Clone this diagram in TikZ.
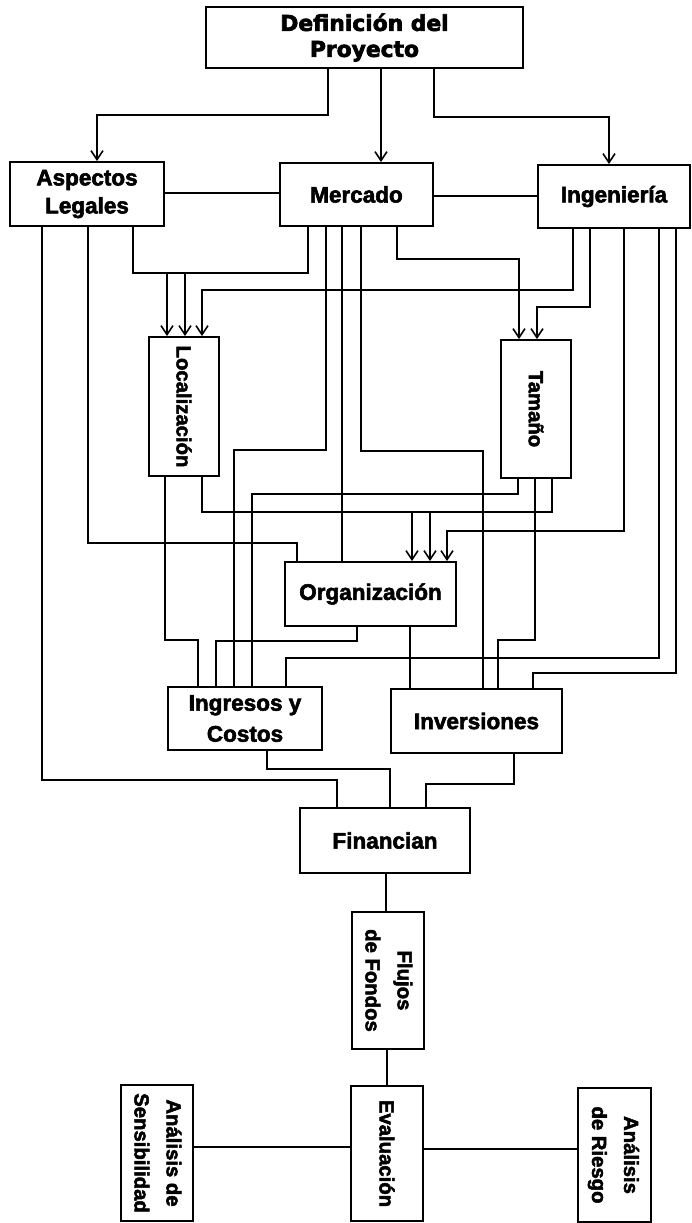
\documentclass[tikz,border=0pt]{standalone}
\usepackage{graphicx}
\usepackage{fontspec}
\setmainfont{Liberation Sans}[BoldFeatures={FakeBold=2.5}]
\newfontfamily\titlefont{DejaVu Sans}[BoldFeatures={FakeBold=3}]
\usetikzlibrary{arrows.meta}
\begin{document}
\begin{tikzpicture}[x=1pt,y=-1pt,
  nbox/.style={draw, line width=1.9pt, inner sep=0pt, align=center,
    font=\bfseries\fontsize{22.5}{28}\selectfont},
  rtext/.style={font=\bfseries\fontsize{20.3}{32}\selectfont},
  conn/.style={line width=1.3pt},
  arr/.style={conn, -{Straight Barb[length=9pt,width=12pt,line width=1.6pt]}}]
\useasboundingbox (0,0) rectangle (691,1223);

% boxes
\node[nbox, minimum width=317, minimum height=61,
  font=\titlefont\bfseries\fontsize{21.8}{26}\selectfont] (def) at (364.5,37.5) {Definición del\\Proyecto};
\node[nbox, minimum width=154, minimum height=64] (asp) at (87,194) {Aspectos\\Legales};
\node[nbox, minimum width=153, minimum height=63] (mer) at (356.5,194.5) {Mercado};
\node[nbox, minimum width=152, minimum height=63] (ing) at (614,196.5) {Ingeniería};
\node[nbox, rtext, minimum width=70, minimum height=139] (loc) at (184,406.5) {\rotatebox{-90}{Localización}};
\node[nbox, rtext, minimum width=70, minimum height=138] (tam) at (536,409) {\rotatebox{-90}{Tamaño}};
\node[nbox, minimum width=171, minimum height=64] (org) at (370.5,594) {Organización};
\node[nbox, minimum width=154, minimum height=63,
  font=\bfseries\fontsize{22.5}{31}\selectfont] (ingr) at (245,718.5) {Ingresos y\\Costos};
\node[nbox, minimum width=171, minimum height=64] (inv) at (476.5,721) {Inversiones};
\node[nbox, minimum width=170, minimum height=65] (fin) at (385,840.5) {Financian};
\node[nbox, rtext, minimum width=72, minimum height=137] (flu) at (388,980.5)
  {\rotatebox{-90}{\begin{tabular}{@{}c@{}}Flujos\\de Fondos\end{tabular}}};
\node[nbox, rtext, minimum width=72, minimum height=135] (eva) at (387,1153.5) {\rotatebox{-90}{Evaluación}};
\node[nbox, rtext, minimum width=72, minimum height=136] (sen) at (157,1153)
  {\rotatebox{-90}{\begin{tabular}{@{}c@{}}Análisis de\\Sensibilidad\end{tabular}}};
\node[nbox, rtext, minimum width=73, minimum height=134] (rie) at (614.5,1155)
  {\rotatebox{-90}{\begin{tabular}{@{}c@{}}Análisis\\de Riesgo\end{tabular}}};

% from the project definition
\draw[arr] (328,0 |- def.south) |- (97,115) -- (97,0 |- asp.north);
\draw[arr] (381,0 |- def.south) -- (381,0 |- mer.north);
\draw[arr] (434,0 |- def.south) |- (609,117) -- (609,0 |- ing.north);
\draw[conn] (asp.east |- 0,193) -- (mer.west |- 0,193);
\draw[conn] (mer.east |- 0,196) -- (ing.west |- 0,196);

% Aspectos Legales
\draw[conn] (42,0 |- asp.south) |- (337,780) -- (337,0 |- fin.north);
\draw[conn] (88,0 |- asp.south) |- (297,543) -- (297,0 |- org.north);
\draw[conn] (133,0 |- asp.south) |- (308,273) -- (308,0 |- mer.south);
\coordinate (j1) at (167,273);
\coordinate (j2) at (185,273);
\draw[arr] (j1) -- (j1 |- loc.north);
\draw[arr] (j2) -- (j2 |- loc.north);

% Mercado
\draw[conn] (326,0 |- mer.south) |- (234,450) -- (234,0 |- ingr.north);
\draw[conn] (342,0 |- mer.south) -- (342,0 |- org.north);
\draw[conn] (361,0 |- mer.south) |- (483,451) -- (483,0 |- inv.north);
\draw[arr] (397,0 |- mer.south) |- (519,259) -- (519,0 |- tam.north);

% Ingenieria
\draw[arr] (573,0 |- ing.south) |- (202,290) -- (202,0 |- loc.north);
\draw[arr] (590,0 |- ing.south) |- (537,307) -- (537,0 |- tam.north);
\draw[arr] (624,0 |- ing.south) |- (447,531) -- (447,0 |- org.north);
\draw[conn] (659,0 |- ing.south) |- (286,658) -- (286,0 |- ingr.north);
\draw[conn] (676,0 |- ing.south) |- (533,673) -- (533,0 |- inv.north);

% Localizacion and Tamano
\draw[conn] (165,0 |- loc.south) |- (198,640) -- (198,0 |- ingr.north);
\draw[conn] (202,0 |- loc.south) |- (552,512) -- (552,0 |- tam.south);
\coordinate (j3) at (412,512);
\coordinate (j4) at (430,512);
\draw[arr] (j3) -- (j3 |- org.north);
\draw[arr] (j4) -- (j4 |- org.north);
\draw[conn] (518,0 |- tam.south) |- (252,494) -- (252,0 |- ingr.north);
\draw[conn] (535,0 |- tam.south) |- (498,640) -- (498,0 |- inv.north);

% Organizacion
\draw[conn] (357,0 |- org.south) |- (216,641) -- (216,0 |- ingr.north);
\draw[conn] (410,0 |- org.south) -- (410,0 |- inv.north);

% to Financian and below
\draw[conn] (267,0 |- ingr.south) |- (390,769) -- (390,0 |- fin.north);
\draw[conn] (514,0 |- inv.south) |- (426,784) -- (426,0 |- fin.north);
\draw[conn] (386,0 |- fin.south) -- (386,0 |- flu.north);
\draw[conn] (387,0 |- flu.south) -- (387,0 |- eva.north);
\draw[conn] (sen.east |- 0,1147) -- (eva.west |- 0,1147);
\draw[conn] (eva.east |- 0,1149) -- (rie.west |- 0,1149);
\end{tikzpicture}
\end{document}
